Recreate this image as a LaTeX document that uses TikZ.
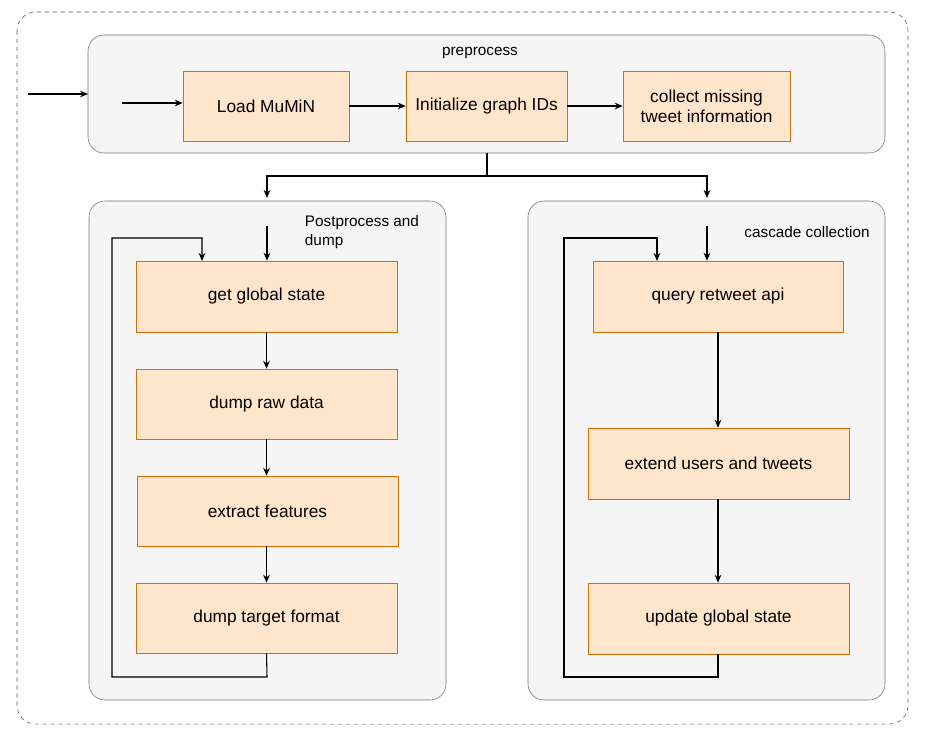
\documentclass[tikz,border=0pt]{standalone}
\usepackage{fontspec}
\setmainfont{Liberation Sans}
\usetikzlibrary{arrows.meta}
\begin{document}
\begin{tikzpicture}[x=0.0264cm,y=-0.0264cm,
  cont/.style={draw=black!55,fill=black!4,rounded corners=12pt},
  box/.style={draw=orange!85!black,fill=orange!20,inner sep=0pt,font=\fontsize{13}{15}\selectfont,align=center},
  lbl/.style={font=\fontsize{11.5}{14}\selectfont,align=left},
  arr/.style={-{Stealth[length=6pt,width=5pt]},line width=0.8pt},
  ln/.style={line width=0.8pt}]
\useasboundingbox (0,0) rectangle (927,733);
\draw[dashed,rounded corners=14pt,black!70] (17,12) rectangle (908,724);
\draw[cont] (88,35) rectangle (885,153);
\node[lbl] (pl) at (480,53) {preprocess};
\draw[cont] (89,201) rectangle (446,700);
\draw[cont] (528,201) rectangle (885,700);
\node[lbl] (ll) at (362,232) {Postprocess and\\dump};
\node[lbl] (rl) at (807,232) {cascade collection};
\def\bx#1#2#3#4#5#6{\node[box,minimum width={(#4-#2)*0.0264cm},minimum height={(#5-#3)*0.0264cm}] (#1) at ({(#2+#4)/2},{(#3+#5)/2}) {#6};}
\bx{load}{183}{71}{349}{141}{Load MuMiN}
\bx{init}{406}{71}{567}{141}{Initialize graph IDs}
\bx{coll}{623}{71}{790}{141}{collect missing\\tweet information}
\bx{get}{136}{261}{397}{332}{get global state}
\bx{raw}{136}{369}{397}{439}{dump raw data}
\bx{ext}{137}{476}{398}{546}{extract features}
\bx{tgt}{136}{583}{397}{653}{dump target format}
\bx{qry}{593}{261}{843}{332}{query retweet api}
\bx{extd}{588}{428}{849}{499}{extend users and tweets}
\bx{upd}{588}{583}{849}{654}{update global state}
\coordinate (a0) at (28,94); \coordinate (a1) at (88,94);
\draw[arr] (a0) -- (a1);
\coordinate (b0) at (122,103);
\draw[arr] (b0) -- (b0 -| load.west);
\draw[arr] (load) -- (init);
\draw[arr] (init) -- (coll);
\coordinate (s0) at (487,153); \coordinate (s1) at (487,176);
\coordinate (sl) at (267,198); \coordinate (sr) at (707,198);
\draw[ln] (s0) -- (s1);
\draw[arr] (s1) -| (sl);
\draw[arr] (s1) -| (sr);
\coordinate (gl) at (267,226); \coordinate (gr) at (707,226);
\draw[arr] (gl) -- (gl |- get.north);
\draw[arr] (gr) -- (gr |- qry.north);
\draw[arr] (get) -- (raw);
\draw[arr] (raw) -- (raw |- ext.north);
\draw[arr] (ext.south -| tgt) -- (tgt);
\draw[arr] (qry.south -| 718,0) -- (extd.north -| 718,0);
\draw[arr] (extd.south -| 718,0) -- (upd.north -| 718,0);
\draw[arr] (tgt.south) -- (267,677) -- (112,677) -- (112,238) -- (202,238) -- (202,261);
\draw[arr] (718,654) -- (718,677) -- (564,677) -- (564,238) -- (657,238) -- (657,261);
\end{tikzpicture}
\end{document}
